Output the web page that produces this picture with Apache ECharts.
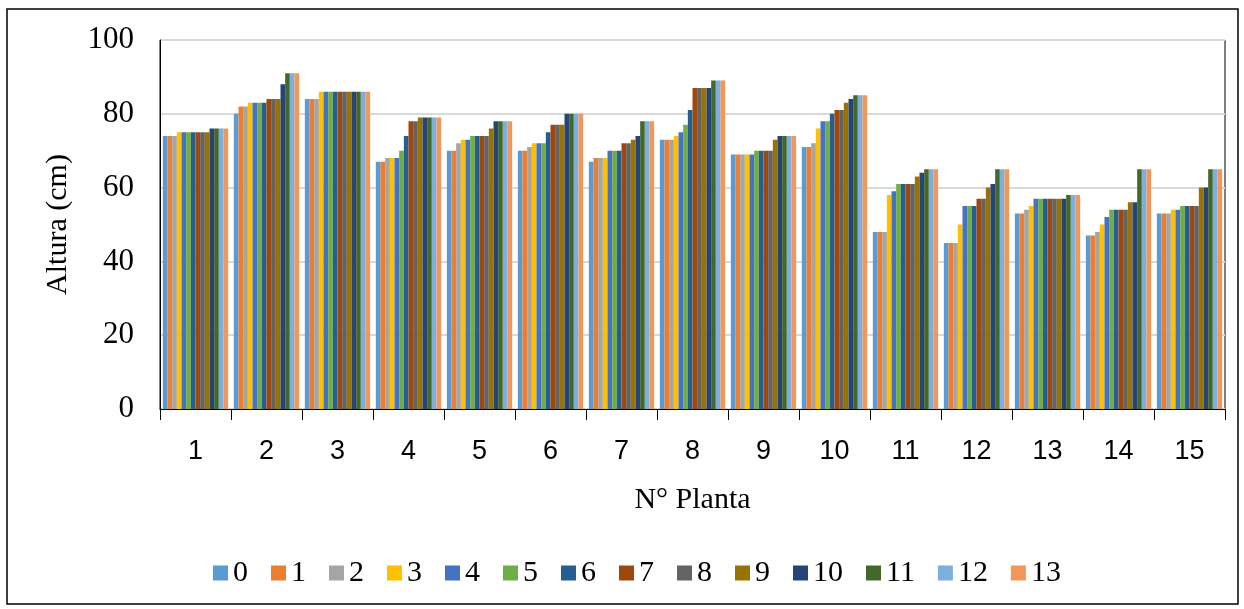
<!DOCTYPE html>
<html>
<head>
<meta charset="utf-8">
<script src="https://cdn.jsdelivr.net/npm/echarts@6/dist/echarts.min.js"></script>
<style>
  html, body { margin: 0; padding: 0; background: #fff; }
  #main { width: 1244px; height: 609px; }
</style>
</head>
<body>
<div id="main"></div>
<script>
// N° Planta
var plantas = ['1','2','3','4','5','6','7','8','9','10','11','12','13','14','15'];
var yTicks = [0, 20, 40, 60, 80, 100];

// altura (cm) por medición 0..13
var s0  = [74,80,84,67,70,70,67,73,69,71,48,45,53,47,53];
var s1  = [74,82,84,67,70,70,68,73,69,71,48,45,53,47,53];
var s2  = [74,82,84,68,72,71,68,73,69,72,48,45,54,48,53];
var s3  = [75,83,86,68,73,72,68,74,69,76,58,50,55,50,54];
var s4  = [75,83,86,68,73,72,70,75,69,78,59,55,57,52,54];
var s5  = [75,83,86,70,74,72,70,77,70,78,61,55,57,54,55];
var s6  = [75,83,86,74,74,75,70,81,70,80,61,55,57,54,55];
var s7  = [75,84,86,78,74,77,72,87,70,81,61,57,57,54,55];
var s8  = [75,84,86,78,74,77,72,87,70,81,61,57,57,54,55];
var s9  = [75,84,86,79,76,77,73,87,73,83,63,60,57,56,60];
var s10 = [76,88,86,79,78,80,74,87,74,84,64,61,57,56,60];
var s11 = [76,91,86,79,78,80,78,89,74,85,65,65,58,65,65];
var s12 = [76,91,86,79,78,80,78,89,74,85,65,65,58,65,65];
var s13 = [76,91,86,79,78,80,78,89,74,85,65,65,58,65,65];

var nombres = ['0','1','2','3','4','5','6','7','8','9','10','11','12','13'];
var datos = [s0,s1,s2,s3,s4,s5,s6,s7,s8,s9,s10,s11,s12,s13];
var colores = ['#5B9BD5','#ED7D31','#A5A5A5','#FFC000','#4472C4','#70AD47','#255E91',
               '#9E480E','#636363','#997300','#264478','#43682B','#7CAFDD','#F1975A'];

var myChart = echarts.init(document.getElementById('main'));

var series = datos.map(function (d, i) {
    return {
        name: nombres[i],
        type: 'bar',
        data: d,
        barGap: '0%',
        barCategoryGap: '8%',
        itemStyle: { color: colores[i] }
    };
});

var option = {
    animation: false,
    color: colores,
    graphic: [{
        type: 'rect',
        shape: { x: 7, y: 9, width: 1231, height: 595 },
        style: { fill: null, stroke: '#000', lineWidth: 1.5 },
        z: 100
    }],
    grid: {
        left: 160, right: 19, top: 40, bottom: 200,
        show: true, borderColor: '#000', borderWidth: 1
    },
    legend: {
        bottom: 16,
        left: 208,
        itemWidth: 15,
        itemHeight: 15,
        itemGap: 23,
        icon: 'rect',
        textStyle: { fontFamily: 'Liberation Serif', fontSize: 30, color: '#000' },
        data: nombres
    },
    xAxis: {
        type: 'category',
        data: plantas,
        name: 'N° Planta',
        nameLocation: 'middle',
        nameGap: 76,
        nameTextStyle: { fontFamily: 'Liberation Serif', fontSize: 30, color: '#000' },
        axisLine: { lineStyle: { color: '#000', width: 1 } },
        axisTick: { show: true, length: 11, lineStyle: { color: '#000' } },
        axisLabel: { margin: 29, fontFamily: 'Liberation Sans', fontSize: 27, color: '#000' }
    },
    yAxis: {
        type: 'value',
        min: yTicks[0],
        max: yTicks[yTicks.length - 1],
        interval: 20,
        name: 'Altura (cm)',
        nameLocation: 'middle',
        nameGap: 87,
        nameTextStyle: { fontFamily: 'Liberation Serif', fontSize: 30, color: '#000' },
        axisLine: { show: true, lineStyle: { color: '#000' } },
        axisTick: { show: false },
        splitLine: { lineStyle: { color: '#d9d9d9', width: 2 } },
        axisLabel: { margin: 26, fontFamily: 'Liberation Serif', fontSize: 31, color: '#000' }
    },
    series: series
};
myChart.setOption(option);
</script>
</body>
</html>
